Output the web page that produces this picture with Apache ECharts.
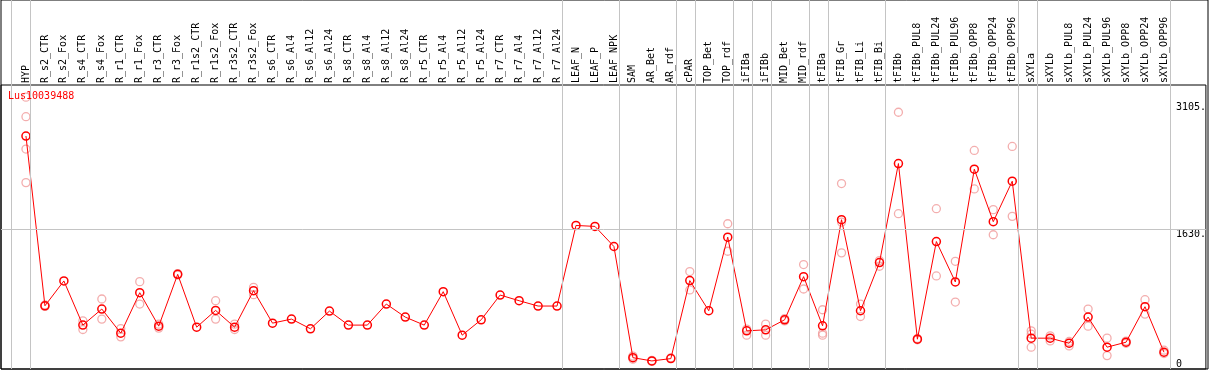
<!DOCTYPE html>
<html>
<head>
<meta charset="utf-8">
<script src="https://cdn.jsdelivr.net/npm/echarts@6/dist/echarts.min.js"></script>
<style>
  html, body { margin: 0; padding: 0; background: #fff; }
  #chart { width: 1209px; height: 370px; }
</style>
</head>
<body>
<div id="chart"></div>
<script>
// ---------------- data ----------------
const geneName = 'Lus10039488';

const categories = [
  'HYP',
  'R_s2_CTR', 'R_s2_Fox', 'R_s4_CTR', 'R_s4_Fox', 'R_r1_CTR', 'R_r1_Fox', 'R_r3_CTR', 'R_r3_Fox',
  'R_r1s2_CTR', 'R_r1s2_Fox', 'R_r3s2_CTR', 'R_r3s2_Fox',
  'R_s6_CTR', 'R_s6_Al4', 'R_s6_Al12', 'R_s6_Al24',
  'R_s8_CTR', 'R_s8_Al4', 'R_s8_Al12', 'R_s8_Al24',
  'R_r5_CTR', 'R_r5_Al4', 'R_r5_Al12', 'R_r5_Al24',
  'R_r7_CTR', 'R_r7_Al4', 'R_r7_Al12', 'R_r7_Al24',
  'LEAF_N', 'LEAF_P', 'LEAF_NPK',
  'SAM', 'AR_Bet', 'AR_rdf', 'cPAR', 'TOP_Bet', 'TOP_rdf', 'iFIBa', 'iFIBb', 'MID_Bet', 'MID_rdf',
  'tFIBa', 'tFIB_Gr', 'tFIB_Li', 'tFIB_Bi',
  'tFIBb', 'tFIBb_PUL8', 'tFIBb_PUL24', 'tFIBb_PUL96', 'tFIBb_OPP8', 'tFIBb_OPP24', 'tFIBb_OPP96',
  'sXYLa', 'sXYLb', 'sXYLb_PUL8', 'sXYLb_PUL24', 'sXYLb_PUL96', 'sXYLb_OPP8', 'sXYLb_OPP24', 'sXYLb_OPP96'
];

const meanValues = [
  2712,
  736, 1025, 511, 698, 417, 888, 499, 1102,
  487, 682, 487, 912,
  534, 581, 468, 674,
  511, 511, 756, 604,
  511, 900, 394, 573,
  861, 795, 733, 733,
  1671, 1660, 1426,
  132, 94, 121, 1029, 678, 1535, 444, 456, 573, 1075,
  503, 1738, 678, 1239,
  2392, 347, 1484, 1013, 2326, 1715, 2186,
  359, 359, 300, 604, 254, 312, 725, 195
];

const replicateValues = [
  [3164, 2937, 2560, 2170],
  [745, 728], [], [561, 460], [815, 581], [471, 374], [1017, 756], [522, 476], [1110, 1094],
  [], [795, 581], [522, 460], [950, 865],
  [], [], [], [],
  [], [], [], [],
  [], [], [], [],
  [], [], [], [],
  [], [], [],
  [150, 115], [100, 88], [130], [1134, 920], [], [1691, 1371], [464, 394], [522, 394], [560, 586], [1216, 931],
  [690, 417, 394], [2159, 1710, 1352], [756, 611], [1262, 1196],
  [2989, 1808], [355, 340], [1866, 1083], [1254, 779], [2544, 2096], [1855, 1563], [2591, 1777],
  [444, 405, 254], [386, 327], [320, 269], [698, 499], [359, 156], [325, 300], [807, 639], [219, 180]
];

// group boundaries: index of last category in each group (-1 = before the first)
const groupEnds = [-1, 0, 28, 31, 34, 35, 37, 38, 39, 41, 42, 45, 52, 53, 60];

const yTickLabels = [1630, 3105];
const yZeroLabel = [0];
const yGridLines = [1630];
const yMax = 3306;

// ---------------- layout ----------------
const W = 1209;
const gridLeft = 1, gridRight = 1;
const firstCatPx = 26, catStep = 19;
const xMin = (gridLeft - firstCatPx) / catStep;
const xMax = (W - gridRight - firstCatPx) / catStep;
const sepOffset = 0.23;
const FONT = 'DejaVu Sans Mono';

const meanData = meanValues.map((v, i) => [i, v]);
const repData = [];
replicateValues.forEach((arr, i) => arr.forEach(v => repData.push([i, v])));

const chart = echarts.init(document.getElementById('chart'), null, { renderer: 'canvas' });

const yLabelBase = {
  inside: true,
  align: 'left',
  margin: 30,
  color: '#000',
  fontFamily: FONT,
  fontSize: 10
};

const option = {
  animation: false,
  backgroundColor: '#fff',
  title: {
    text: geneName,
    left: 8,
    top: 91,
    padding: 0,
    textStyle: { color: '#ff0000', fontFamily: FONT, fontSize: 10, fontWeight: 'normal' }
  },
  grid: [
    { left: gridLeft, right: gridRight, top: 85, bottom: 1, show: true, borderColor: '#000', borderWidth: 1, backgroundColor: 'transparent' },
    { left: gridLeft, right: gridRight, top: 0, bottom: 1, show: true, borderColor: '#000', borderWidth: 1, backgroundColor: 'transparent' }
  ],
  xAxis: [
    {
      gridIndex: 0, type: 'value', position: 'top', min: xMin, max: xMax,
      axisLine: { show: false }, axisTick: { show: false }, splitLine: { show: false },
      axisLabel: {
        customValues: categories.map((_, i) => i),
        formatter: v => categories[Math.round(v)] || '',
        rotate: 90, margin: 2, color: '#000', fontFamily: FONT, fontSize: 10
      }
    },
    { gridIndex: 1, type: 'value', min: xMin, max: xMax, show: false }
  ],
  yAxis: [
    {
      gridIndex: 0, type: 'value', position: 'right', min: 0, max: yMax,
      axisLine: { show: false }, axisTick: { show: false }, splitLine: { show: false },
      axisLabel: Object.assign({}, yLabelBase, {
        customValues: yTickLabels, verticalAlign: 'top', formatter: v => v + '.'
      })
    },
    {
      gridIndex: 0, type: 'value', position: 'right', min: 0, max: yMax,
      axisLine: { show: false }, axisTick: { show: false }, splitLine: { show: false },
      axisLabel: Object.assign({}, yLabelBase, {
        customValues: yZeroLabel, verticalAlign: 'bottom', formatter: v => String(v)
      })
    },
    { gridIndex: 1, type: 'value', min: 0, max: 1, show: false }
  ],
  series: [
    {
      type: 'line', xAxisIndex: 1, yAxisIndex: 2, data: [], silent: true, z: 1,
      markLine: {
        silent: true, symbol: 'none', label: { show: false }, animation: false,
        lineStyle: { color: '#c4c4c4', width: 1, type: 'solid' },
        data: groupEnds.map(k => ({ xAxis: k + sepOffset }))
      }
    },
    {
      type: 'line', xAxisIndex: 0, yAxisIndex: 0, data: [], silent: true, z: 1,
      markLine: {
        silent: true, symbol: 'none', label: { show: false }, animation: false,
        lineStyle: { color: '#c4c4c4', width: 1, type: 'solid' },
        data: yGridLines.map(v => ({ yAxis: v }))
      }
    },
    {
      type: 'scatter', xAxisIndex: 0, yAxisIndex: 0, data: repData, z: 3,
      symbol: 'circle', symbolSize: 8,
      itemStyle: { color: 'transparent', borderColor: '#f09a9a', borderWidth: 1.3 }
    },
    {
      type: 'line', xAxisIndex: 0, yAxisIndex: 0, data: meanData, z: 4,
      symbol: 'circle', symbolSize: 8, showAllSymbol: true,
      lineStyle: { color: '#ff0000', width: 1 },
      itemStyle: { color: 'transparent', borderColor: '#ff0000', borderWidth: 1.5 }
    }
  ]
};

chart.setOption(option);
</script>
</body>
</html>
